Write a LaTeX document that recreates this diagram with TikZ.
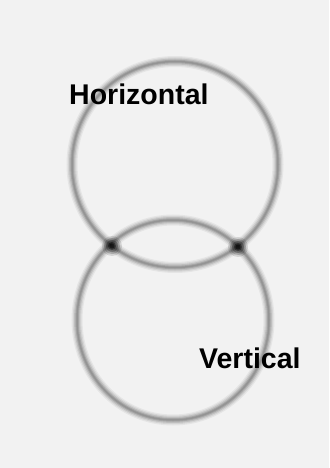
\documentclass[tikz,border=0pt]{standalone}
\usepackage{fontspec}
\setmainfont{Liberation Sans}
\usetikzlibrary{positioning}
\tikzset{
  ring/.style={draw=black, line width=#1},
  label/.style={font=\bfseries\fontsize{28.5}{31}\selectfont, inner sep=0pt, anchor=base west}
}
\begin{document}
\begin{tikzpicture}[x=1pt, y=-1pt]
	\useasboundingbox (0,0) rectangle (329,468);
	\fill[black!5] (0,0) rectangle (329,468);
	% blurred rings
	\foreach \w/\o in {11/0.05, 8.5/0.07, 6/0.1, 3.5/0.13, 1.5/0.1} {
		\draw[ring=\w pt, draw opacity=\o] (175,164.5) circle (103);
		\draw[ring=\w pt, draw opacity=\o] (173,320) ellipse (96 and 100);
	}
	% dark spots where the rings cross
	\foreach \x/\y in {112/246, 238/247} {
		\foreach \r/\o in {10/0.12, 8/0.18, 6/0.25, 4/0.35, 2.5/0.4} {
			\fill[black, opacity=\o] (\x,\y) circle (\r);
		}
	}
	\node[label] (horiz) at (69,105) {Horizontal};
	\node[label] (vert) at (199,368) {Vertical};
\end{tikzpicture}
\end{document}
